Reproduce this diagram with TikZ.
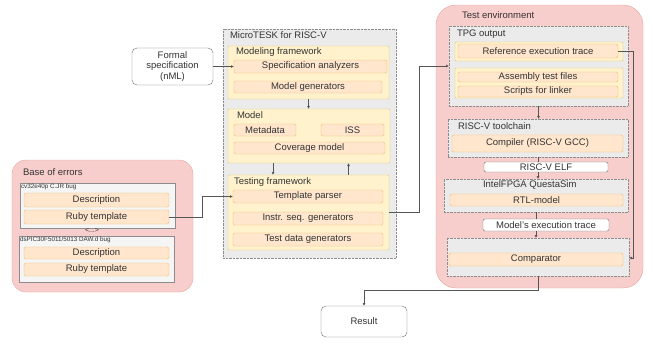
\documentclass[tikz,border=0pt]{standalone}
\usepackage{fontspec}
\setmainfont{Liberation Sans}
\usepackage{xcolor}
\usepackage{tikz}
\usetikzlibrary{arrows.meta, positioning}

\definecolor{ylfill}{HTML}{FFF2CC}
\definecolor{yldraw}{HTML}{DFC679}
\definecolor{orfill}{HTML}{FFE6CC}
\definecolor{ordraw}{HTML}{EDBE72}
\definecolor{rdfill}{HTML}{F8CECC}
\definecolor{rddraw}{HTML}{E6A3A0}
\definecolor{gyfill}{HTML}{EBEBEB}
\definecolor{gydraw}{HTML}{8C8C8C}
\definecolor{txt}{HTML}{333333}
\definecolor{wire}{HTML}{555555}

\begin{document}
\begin{tikzpicture}[
  x=1pt, y=-1pt,
  every node/.style = {font=\fontsize{9.5}{11}\selectfont, text=txt,
                       inner sep=0pt, outer sep=0pt},
  group/.style   = {draw=gydraw, densely dotted, fill=gyfill, anchor=north west},
  frame/.style   = {draw=yldraw, fill=ylfill, rounded corners=1pt, anchor=north west},
  item/.style    = {draw=ordraw, fill=orfill, rounded corners=1.5pt, anchor=north west},
  plain/.style   = {draw=gydraw!80!black, fill=white, rounded corners=1.5pt,
                    anchor=north west},
  errbox/.style  = {draw=rddraw, fill=rdfill, anchor=north west},
  bugbox/.style  = {draw=gydraw, fill=gray!8, anchor=north west},
  lbl/.style     = {anchor=north west},
  tinylbl/.style = {anchor=north west, font=\fontsize{6.3}{7}\selectfont},
  arr/.style     = {-{Latex[length=3pt,width=3pt]}, draw=wire, line width=0.6pt},
  wire/.style    = {draw=wire, line width=0.6pt}
]
\useasboundingbox (0,0) rectangle (652,343);

% input specification
\node[plain, rounded corners=5pt, minimum width=81pt, minimum height=37pt,
      align=center, font=\fontsize{9.5}{10.5}\selectfont] (spec) at (132,48)
      {Formal\\specification\\(nML)};

% MicroTESK
\node[group, minimum width=173pt, minimum height=229pt] (mtesk) at (223,29) {};
\node[lbl] (mteskl) at (230,31.5) {MicroTESK for RISC-V};

\node[frame, minimum width=161pt, minimum height=53pt] (modfw) at (228,46) {};
\node[lbl] (modfwl) at (236,47.5) {Modeling framework};
\node[item, minimum width=153pt, minimum height=13pt] (specan) at (234,60) {Specification analyzers};
\node[item, minimum width=148pt, minimum height=12pt] (modgen) at (234,81) {Model generators};

\node[frame, minimum width=162pt, minimum height=54pt] (model) at (228,109) {};
\node[lbl] (modell) at (237,111.5) {Model};
\node[item, minimum width=62pt, minimum height=12pt] (meta) at (234,124) {Metadata};
\node[item, minimum width=63pt, minimum height=12pt] (iss) at (321,124) {ISS};
\node[item, minimum width=151pt, minimum height=12pt] (covm) at (234,142) {Coverage model};

\node[frame, minimum width=161pt, minimum height=75pt] (testfw) at (228,175) {};
\node[lbl] (testfwl) at (234,177.5) {Testing framework};
\node[item, minimum width=150pt, minimum height=13pt] (tparse) at (233,190) {Template parser};
\node[item, minimum width=150pt, minimum height=13pt] (instr) at (233,212) {Instr. seq. generators};
\node[item, minimum width=150pt, minimum height=13pt] (tdata) at (233,233) {Test data generators};

% base of errors
\node[errbox, rounded corners=14pt, minimum width=181pt, minimum height=132pt] (errors) at (12,160) {};
\node[lbl] (errorsl) at (23,168.5) {Base of errors};
\node[bugbox, minimum width=155pt, minimum height=45pt] (bugA) at (20,183) {};
\node[tinylbl] (bugAl) at (21,184.3) {cv32e40p C.JR bug};
\node[item, minimum width=145pt, minimum height=14pt] (descA) at (24,193) {Description};
\node[item, minimum width=145pt, minimum height=14pt] (rubyA) at (24,210) {Ruby template};
\node[tinylbl, font=\fontsize{7}{7}\selectfont] (gap) at (85,228.5) {<...>};
\node[bugbox, minimum width=155pt, minimum height=46pt] (bugB) at (19,236) {};
\node[tinylbl] (bugBl) at (20,237.3) {dsPIC30F5011/5013 DAW.d bug};
\node[item, minimum width=145pt, minimum height=12pt] (descB) at (24,247) {Description};
\node[item, minimum width=145pt, minimum height=13pt] (rubyB) at (24,263) {Ruby template};

% test environment
\node[errbox, rounded corners=20pt, minimum width=207pt, minimum height=283pt] (testenv) at (436,5) {};
\node[lbl] (testenvl) at (462,11.5) {Test environment};

\node[group, minimum width=179pt, minimum height=80pt] (tpg) at (449,26) {};
\node[lbl] (tpgl) at (457,29.5) {TPG output};
\node[frame, minimum width=168pt, minimum height=19pt] (refgrp) at (455,42) {};
\node[item, minimum width=160pt, minimum height=14pt] (reftr) at (458,44) {Reference execution trace};
\node[frame, minimum width=168pt, minimum height=30pt] (asmgrp) at (455,68) {};
\node[item, minimum width=160pt, minimum height=10pt] (asm) at (458,72) {Assembly test files};
\node[item, minimum width=160pt, minimum height=11pt] (scripts) at (458,86) {Scripts for linker};

\node[group, minimum width=180pt, minimum height=38pt] (tool) at (448,119) {};
\node[lbl] (tooll) at (458,122.5) {RISC-V toolchain};
\node[item, minimum width=171pt, minimum height=17pt] (gcc) at (452,135) {Compiler (RISC-V GCC)};

\node[plain, minimum width=124pt, minimum height=10pt] (elf) at (484,162) {RISC-V ELF};

\node[group, minimum width=184pt, minimum height=33pt] (questa) at (444,179) {};
\node[lbl] (questal) at (483,181) {IntelFPGA QuestaSim};
\node[item, minimum width=173pt, minimum height=12pt] (rtl) at (450,194) {RTL-model};

\node[plain, minimum width=126pt, minimum height=12pt] (mtrace) at (483,219) {Model's execution trace};

\node[group, minimum width=182pt, minimum height=38pt] (cmpgrp) at (447,238) {};
\node[item, minimum width=174pt, minimum height=13pt] (cmp) at (449,253) {Comparator};

% output
\node[plain, rounded corners=5pt, minimum width=86pt, minimum height=31pt] (result) at (321,306) {Result};

% connectors
\draw[arr] (spec.east) -- (specan.west);
\draw[arr] (modfw.south) -- (modfw.south |- model.north);
\draw[arr] ([xshift=-36pt]model.south) -- ([xshift=-36pt]model.south |- testfw.north);
\draw[arr] ([xshift=40pt]testfw.north) -- ([xshift=40pt]testfw.north |- model.south);
\draw[arr] (rubyA.east) -- ++(33,0) |- (tparse.west);
\draw[arr] (testfw.east) -- ++(30,0) |- (tpg.west);
\draw[arr] (tpg.south) -- (tpg.south |- tool.north);
\draw[wire] (tool.south) -- (tool.south |- elf.north);
\draw[arr] (tool.south |- elf.south) -- (tool.south |- questa.north);
\draw[wire] (questa.south) -- (questa.south |- mtrace.north);
\draw[arr] (questa.south |- mtrace.south) -- (questa.south |- cmpgrp.north);
\draw[arr] (reftr.east) -- ++(15,0) |- ([yshift=-1pt]cmpgrp.east);
\draw[arr] (cmpgrp.south) -- ++(0,14) -| (result.north);
\end{tikzpicture}
\end{document}
